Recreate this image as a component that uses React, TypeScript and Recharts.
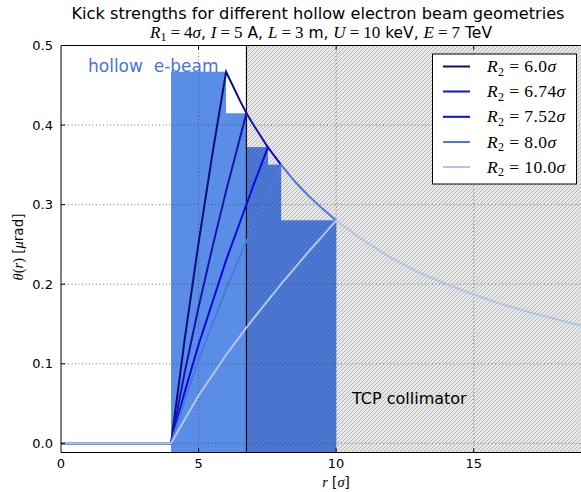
import React from 'react';
import { ComposedChart, Line, Area, XAxis, YAxis, ReferenceLine } from 'recharts';

// ---- data ----
const R2_VALUES = [6.0, 6.74, 7.52, 8.0, 10.0];
const R2_LABELS = ['6.0', '6.74', '7.52', '8.0', '10.0'];
const LINE_COLORS = ['#0c0c82', '#1616ad', '#0808e0', '#4c76e2', '#b2c6e3'];

const FLAT_R = [0, 4];
const FLAT_T = [0, 0];

const RISE_R = [
  [4, 4.5, 5, 5.5, 6],
  [4, 4.5, 5, 5.5, 6, 6.74],
  [4, 4.5, 5, 6, 7, 7.52],
  [4, 4.5, 5, 6, 7, 8],
  [4, 5, 6, 6.74, 7, 8, 9, 10],
];
const RISE_T = [
  [0, 0.132, 0.252, 0.363, 0.467],
  [0, 0.09, 0.171, 0.246, 0.317, 0.415],
  [0, 0.065, 0.124, 0.23, 0.325, 0.372],
  [0, 0.055, 0.105, 0.194, 0.275, 0.35],
  [0, 0.06, 0.111, 0.1455, 0.157, 0.2, 0.241, 0.28],
];

const TAIL_R = [6, 6.5, 6.74, 7, 7.52, 8, 8.5, 9, 9.5, 10, 11, 12, 13, 14, 15, 16, 17, 18, 19, 20];
const TAIL_T = [0.467, 0.431, 0.415, 0.4, 0.372, 0.35, 0.329, 0.311, 0.295, 0.28, 0.255, 0.233, 0.215, 0.2, 0.187, 0.175, 0.165, 0.156, 0.147, 0.14];

const BEAM_EDGES = [4, 6, 6.74, 7.52, 8, 10];
const BEAM_HEIGHTS = [0.467, 0.415, 0.372, 0.35, 0.28, 0.28];

const COLLIMATOR_R = [6.74, 20];
const COLLIMATOR_TOP = 0.5;

const X_TICKS = [0, 5, 10, 15];
const Y_TICKS = [0, 0.1, 0.2, 0.3, 0.4, 0.5];
const X_DOMAIN = [0, 18.9];
const Y_DOMAIN = [-0.0115, 0.5];

const SUBTITLE_PARTS = [
  { v: 'R', sub: '1', num: '4', unit: 'σ' },
  { v: 'I', sub: '', num: '5', unit: ' A' },
  { v: 'L', sub: '', num: '3', unit: ' m' },
  { v: 'U', sub: '', num: '10', unit: ' keV' },
  { v: 'E', sub: '', num: '7', unit: ' TeV' },
];

// ---- derived tables ----
// each curve is drawn up to where the next (later drawn) curve joins the common tail
const lineData = R2_VALUES.map((r2, i) => {
  const next = i < R2_VALUES.length - 1 ? R2_VALUES[i + 1] : Infinity;
  const pts: { r: number; t: number }[] = [];
  FLAT_R.forEach((r, j) => pts.push({ r, t: FLAT_T[j] }));
  RISE_R[i].forEach((r, j) => pts.push({ r, t: RISE_T[i][j] }));
  TAIL_R.forEach((r, j) => {
    if (r > r2 + 1e-9 && r <= next + 1e-9) pts.push({ r, t: TAIL_T[j] });
  });
  return pts;
});

const beamData = BEAM_EDGES.map((r, i) => ({ r, t: BEAM_HEIGHTS[i] }));
const beamInCollData = beamData.filter((d) => d.r >= COLLIMATOR_R[0] - 1e-9);
const collData = COLLIMATOR_R.map((r) => ({ r, t: COLLIMATOR_TOP }));

const SANS = 'DejaVu Sans';
const SERIF = 'Liberation Serif';

const W = 581;
const H = 492;

const PLOT_LEFT = 61;
const PLOT_TOP = 45.5;
const PLOT_BOTTOM = 452.5;

const xTickLen = 4 / ((W - PLOT_LEFT) / (X_DOMAIN[1] - X_DOMAIN[0]));
const yTickLen = 4 / ((PLOT_BOTTOM - PLOT_TOP) / (Y_DOMAIN[1] - Y_DOMAIN[0]));

const Legend = () => {
  const x0 = 432.5;
  const y0 = 54;
  const rows = [66.5, 91.5, 116.8, 142, 167];
  return (
    <g>
      <rect x={x0} y={y0} width={144} height={130} fill="#fff" stroke="#000" strokeWidth={1} />
      {R2_LABELS.map((lab, i) => (
        <g key={lab}>
          <line x1={443} x2={470} y1={rows[i]} y2={rows[i]} stroke={LINE_COLORS[i]} strokeWidth={2} />
          <text x={487} y={rows[i] + 5.5} fontFamily={SERIF} fontSize={17.5} fill="#000" letterSpacing={0.4}>
            <tspan fontStyle="italic">R</tspan>
            <tspan fontSize={12} dy={3.5}>2</tspan>
            <tspan dy={-3.5}>{' = ' + lab}</tspan>
            <tspan fontStyle="italic">σ</tspan>
          </text>
        </g>
      ))}
    </g>
  );
};

const Subtitle = () => {
  const nodes: React.ReactNode[] = [];
  SUBTITLE_PARTS.forEach((p, i) => {
    if (i > 0) nodes.push(<tspan key={'c' + i} fontFamily={SANS} fontSize={15.5}>{', '}</tspan>);
    nodes.push(<tspan key={'v' + i} fontFamily={SERIF} fontStyle="italic">{p.v}</tspan>);
    if (p.sub) {
      nodes.push(<tspan key={'s' + i} fontFamily={SERIF} fontSize={12} dy={3}>{p.sub}</tspan>);
      nodes.push(<tspan key={'e' + i} fontFamily={SERIF} dy={-3} dx={4}>=</tspan>);
    } else {
      nodes.push(<tspan key={'e' + i} fontFamily={SERIF} dx={4}>=</tspan>);
    }
    nodes.push(<tspan key={'n' + i} fontFamily={SERIF} dx={4}>{p.num}</tspan>);
    if (p.unit === 'σ') {
      nodes.push(<tspan key={'u' + i} fontFamily={SERIF} fontStyle="italic">{p.unit}</tspan>);
    } else {
      nodes.push(<tspan key={'u' + i} fontFamily={SANS} fontSize={15.5}>{p.unit}</tspan>);
    }
  });
  return (
    <text x={321} y={37.5} textAnchor="middle" fontSize={17} fill="#000" xmlSpace="preserve">
      {nodes}
    </text>
  );
};

const Overlay = () => (
  <svg width={W} height={H} style={{ position: 'absolute', left: 0, top: 0, pointerEvents: 'none' }}>
    <text x={318} y={19} textAnchor="middle" fontFamily={SANS} fontSize={16.2} fill="#000">
      Kick strengths for different hollow electron beam geometries
    </text>
    <Subtitle />
    <text x={88} y={72} fontFamily={SANS} fontSize={17} fill="#4a72e0" xmlSpace="preserve">
      hollow  e-beam
    </text>
    <text x={352} y={404} fontFamily={SANS} fontSize={16} fill="#000">
      TCP collimator
    </text>
    <text
      transform="translate(23,247) rotate(-90)"
      textAnchor="middle"
      fontSize={14.5}
      fill="#000"
    >
      <tspan fontFamily={SERIF} fontStyle="italic">θ</tspan>
      <tspan fontFamily={SERIF}>(</tspan>
      <tspan fontFamily={SERIF} fontStyle="italic">r</tspan>
      <tspan fontFamily={SERIF}>)</tspan>
      <tspan fontFamily={SANS} fontSize={13.5}>{' ['}</tspan>
      <tspan fontFamily={SERIF} fontStyle="italic">μ</tspan>
      <tspan fontFamily={SANS} fontSize={13.5}>rad]</tspan>
    </text>
    <text x={336} y={487} textAnchor="middle" fontSize={14.5} fill="#000">
      <tspan fontFamily={SERIF} fontStyle="italic">r</tspan>
      <tspan fontFamily={SANS} fontSize={13.5}>{' ['}</tspan>
      <tspan fontFamily={SERIF} fontStyle="italic">σ</tspan>
      <tspan fontFamily={SANS} fontSize={13.5}>]</tspan>
    </text>
    <Legend />
  </svg>
);

const gridStyle = { stroke: '#444', strokeWidth: 0.7, strokeDasharray: '1 2.5' };

export default function App() {
  return (
    <div style={{ position: 'absolute', left: 0, top: 0, width: W, height: H, background: '#fff', overflow: 'hidden' }}>
      <svg width={0} height={0} style={{ position: 'absolute' }}>
        <defs>
          <pattern id="hatchGray" patternUnits="userSpaceOnUse" width={4} height={4}>
            <rect width={4} height={4} fill="#e7e7e7" />
            <path d="M-1,1 L1,-1 M0,4 L4,0 M3,5 L5,3" stroke="#b3b3b3" strokeWidth={0.9} />
          </pattern>
          <pattern id="hatchBlue" patternUnits="userSpaceOnUse" width={4} height={4}>
            <rect width={4} height={4} fill="#4c79d4" />
            <path d="M-1,1 L1,-1 M0,4 L4,0 M3,5 L5,3" stroke="#3d66bb" strokeWidth={0.9} />
          </pattern>
        </defs>
      </svg>
      <ComposedChart
        width={W}
        height={H}
        margin={{ top: PLOT_TOP, right: 0, bottom: 0, left: 0 }}
      >
        <XAxis
          type="number"
          dataKey="r"
          domain={X_DOMAIN}
          allowDataOverflow
          ticks={X_TICKS}
          tickLine={false}
          tickSize={0}
          tickMargin={6}
          height={H - PLOT_BOTTOM}
          axisLine={{ stroke: '#000', strokeWidth: 1 }}
          tick={{ fill: '#000', fontFamily: SANS, fontSize: 13 }}
        />
        <YAxis
          type="number"
          dataKey="t"
          domain={Y_DOMAIN}
          allowDataOverflow
          ticks={Y_TICKS}
          tickFormatter={(v: number) => v.toFixed(1)}
          tickLine={false}
          tickSize={0}
          tickMargin={8}
          width={PLOT_LEFT}
          axisLine={{ stroke: '#000', strokeWidth: 1 }}
          tick={{ fill: '#000', fontFamily: SANS, fontSize: 13 }}
        />
        <Area
          data={collData}
          dataKey="t"
          type="linear"
          baseValue="dataMin"
          stroke="none"
          fill="url(#hatchGray)"
          fillOpacity={1}
          isAnimationActive={false}
        />
        <Area
          data={beamData}
          dataKey="t"
          type="stepAfter"
          baseValue="dataMin"
          stroke="none"
          fill="#5a8de6"
          fillOpacity={1}
          isAnimationActive={false}
        />
        <Area
          data={beamInCollData}
          dataKey="t"
          type="stepAfter"
          baseValue="dataMin"
          stroke="none"
          fill="url(#hatchBlue)"
          fillOpacity={1}
          isAnimationActive={false}
        />
        {X_TICKS.filter((v) => v > 0).map((v) => (
          <ReferenceLine key={'gx' + v} x={v} {...gridStyle} />
        ))}
        {Y_TICKS.filter((v) => v < 0.5).map((v) => (
          <ReferenceLine key={'gy' + v} y={v} {...gridStyle} />
        ))}
        <ReferenceLine x={COLLIMATOR_R[0]} stroke="#111" strokeWidth={1.2} />
        {lineData.map((d, i) => (
          <Line
            key={R2_LABELS[i]}
            data={d}
            dataKey="t"
            type="linear"
            stroke={LINE_COLORS[i]}
            strokeWidth={2}
            dot={false}
            activeDot={false}
            isAnimationActive={false}
          />
        ))}
        <ReferenceLine y={Y_DOMAIN[1]} stroke="#000" strokeWidth={1} />
        {X_TICKS.filter((v) => v > 0).map((v) => (
          <ReferenceLine
            key={'tb' + v}
            segment={[{ x: v, y: Y_DOMAIN[0] }, { x: v, y: Y_DOMAIN[0] + yTickLen }]}
            stroke="#000"
            strokeWidth={1}
          />
        ))}
        {X_TICKS.filter((v) => v > 0).map((v) => (
          <ReferenceLine
            key={'tt' + v}
            segment={[{ x: v, y: Y_DOMAIN[1] }, { x: v, y: Y_DOMAIN[1] - yTickLen }]}
            stroke="#000"
            strokeWidth={1}
          />
        ))}
        {Y_TICKS.map((v) => (
          <ReferenceLine
            key={'tl' + v}
            segment={[{ x: X_DOMAIN[0], y: v }, { x: X_DOMAIN[0] + xTickLen, y: v }]}
            stroke="#000"
            strokeWidth={1}
          />
        ))}
      </ComposedChart>
      <Overlay />
    </div>
  );
}
